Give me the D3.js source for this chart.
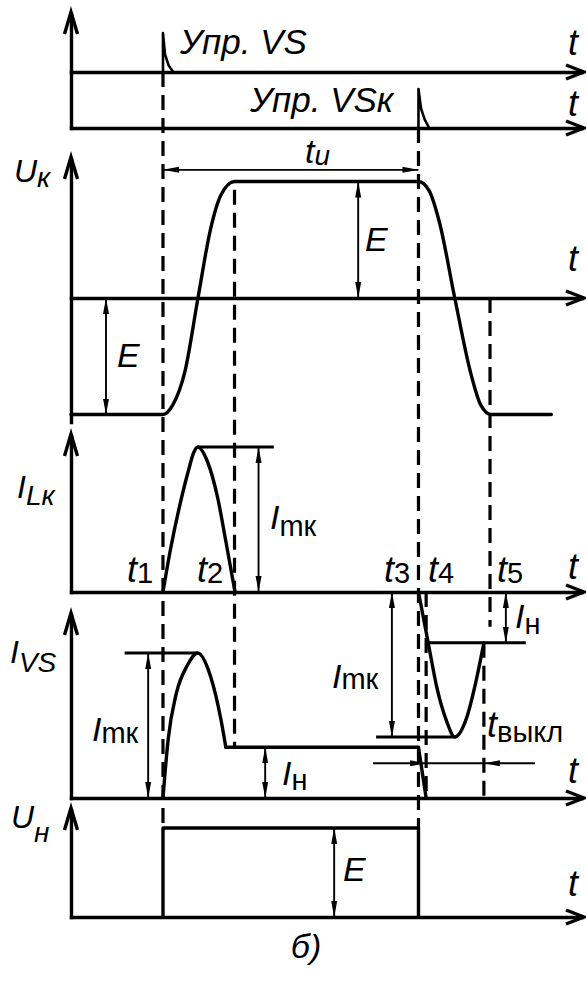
<!DOCTYPE html>
<html lang="ru">
<head>
<meta charset="utf-8">
<title>Временные диаграммы узла коммутации</title>
<script src="https://cdn.jsdelivr.net/npm/d3@7"></script>
<style>
  html, body { margin: 0; padding: 0; background: #fff; }
  svg { display: block; }
  text { font-family: "Liberation Sans", Arial, Helvetica, sans-serif; fill: #000; }
</style>
</head>
<body>
<script>
// Time instants of the commutation cycle (µs from the start of the trace)
const eventLabels = ["1", "2", "3", "4", "5"];
const eventTimes  = [18, 32, 68, 69.5, 82];
const turnOffEnd  = 80.8;   // end of the turn-off interval t_выкл
const loadCurrent = 0.35;   // I_н relative to I_mк

// Gate pulses: time, relative amplitude
const gateVsTimes   = [18, 18, 18.4, 19.1, 20];
const gateVsValues  = [0, 1, 0.45, 0.17, 0];
const gateVskTimes  = [68, 68, 68.5, 69.2, 70.1];
const gateVskValues = [0, 1, 0.5, 0.22, 0];

// Commutating capacitor voltage U_к, units of E
const ukTimes  = [0, 18, 19.9, 22.3, 24.85, 27.3, 29.3, 32, 68, 70.1, 72.1, 75.1, 78.2, 80.2, 82.2, 94];
const ukValues = [-1, -1, -0.92, -0.63, 0, 0.59, 0.88, 1, 1, 0.92, 0.65, 0, -0.64, -0.92, -1, -1];

// Commutating inductor current I_Lк, units of I_mк: forward half-wave
const ilkTimes  = [18, 19.5, 21.3, 23, 24, 24.8, 26.7, 28.7, 30.3, 32.1];
const ilkValues = [0, 0.3, 0.6, 0.84, 0.96, 1, 0.9, 0.65, 0.35, 0];
// reverse half-wave after VSк is fired
const ilkRevTimes  = [68, 69.9, 71.6, 73.5, 75.1, 77.4, 79.1, 80.8];
const ilkRevValues = [0, -0.35, -0.66, -0.89, -1, -0.87, -0.64, -0.35];

// Main thyristor current I_VS, units of I_mк
const ivsTimes  = [18, 19, 20.6, 22.7, 24.8, 27.3, 29.35, 30.3];
const ivsValues = [0, 0.4, 0.72, 0.91, 1, 0.84, 0.54, 0.35];
const ivsTailTimes  = [30.3, 68, 69.5];
const ivsTailValues = [0.35, 0.35, 0];

// Load voltage U_н, units of E
const unTimes  = [18, 18, 68, 68];
const unValues = [0, 1, 1, 0];

const zip = (ts, vs) => ts.map((t, i) => [t, vs[i]]);

// ---------------------------------------------------------------------------
const W = 586, H = 982;
const svg = d3.select("body").append("svg")
  .attr("width", W).attr("height", H).attr("viewBox", `0 0 ${W} ${H}`);
svg.append("rect").attr("width", W).attr("height", H).attr("fill", "#fff");

const x = d3.scaleLinear().domain([0, 100]).range([71, 582]);
const yGate1 = d3.scaleLinear().domain([0, 1]).range([72, 33]);
const yGate2 = d3.scaleLinear().domain([0, 1]).range([128, 89]);
const yUk  = d3.scaleLinear().domain([-1, 1]).range([414.5, 181.5]);
const yIlk = d3.scaleLinear().domain([-1, 1]).range([737, 447]);
const yIvs = d3.scaleLinear().domain([0, 1]).range([798, 653]);
const yUn  = d3.scaleLinear().domain([0, 1]).range([917, 828]);

const AXIS_W = 3.4, CURVE_W = 3.4, DIM_W = 1.9;

const defs = svg.append("defs");
defs.append("marker")
  .attr("id", "dimArrow")
  .attr("viewBox", "0 0 16 8")
  .attr("refX", 16).attr("refY", 4)
  .attr("markerWidth", 16).attr("markerHeight", 8)
  .attr("markerUnits", "userSpaceOnUse")
  .attr("orient", "auto-start-reverse")
  .append("path").attr("d", "M0,1 L16,4 L0,7 Z").attr("fill", "#000");

const gGuides = svg.append("g");
const gAxes = svg.append("g");
const gMarks = svg.append("g");
const gDims = svg.append("g");
const gText = svg.append("g");

// ---- axes ----------------------------------------------------------------
const tipX = 584;
function timeAxis(y0) {
  const ax = d3.axisBottom(x.copy().range([71, tipX - 2])).tickValues([]).tickSizeOuter(0);
  const g = gAxes.append("g").attr("transform", `translate(0,${y0})`).call(ax);
  g.select(".domain").attr("stroke", "#000").attr("stroke-width", AXIS_W).attr("stroke-linecap", "square");
  gAxes.append("path")
    .attr("d", `M${tipX - 18},${y0 - 7}L${tipX},${y0}L${tipX - 18},${y0 + 7}`)
    .attr("fill", "none").attr("stroke", "#000").attr("stroke-width", AXIS_W)
    .attr("stroke-linejoin", "miter");
}
function valueAxis(bottom, tip) {
  const ax = d3.axisLeft(d3.scaleLinear().range([bottom, tip + 2])).tickValues([]).tickSizeOuter(0);
  const g = gAxes.append("g").attr("transform", `translate(${x(0)},0)`).call(ax);
  g.select(".domain").attr("stroke", "#000").attr("stroke-width", AXIS_W).attr("stroke-linecap", "square");
  const x0 = x(0);
  gAxes.append("path")
    .attr("d", `M${x0 - 6.5},${tip + 22}L${x0},${tip}L${x0 + 6.5},${tip + 22}`)
    .attr("fill", "none").attr("stroke", "#000").attr("stroke-width", AXIS_W);
}

[yGate1(0), yGate2(0), yUk(0), yIlk(0), yIvs(0), yUn(0)].forEach(timeAxis);
valueAxis(yGate2(0), 12);
valueAxis(422, 157);
valueAxis(yIlk(0), 434);
valueAxis(yIvs(0), 613);
valueAxis(yUn(0), 808);

// ---- dashed guides at the switching instants ------------------------------
const guides = [
  [eventTimes[0], yGate1(0), yUn(1)],
  [eventTimes[2], yGate2(0), yUn(1)],
  [eventTimes[1], yUk(0.93), yIvs(loadCurrent)],
  [eventTimes[3], yIlk(0), yIvs(0)],
  [eventTimes[4], yUk(0), yIlk(-0.24)],
  [turnOffEnd, yIlk(-loadCurrent), yIvs(0)]
];
gGuides.selectAll("line").data(guides).join("line")
  .attr("x1", d => x(d[0])).attr("x2", d => x(d[0]))
  .attr("y1", d => d[1]).attr("y2", d => d[2])
  .attr("stroke", "#000").attr("stroke-width", 3.2)
  .attr("stroke-dasharray", "15,8");

// ---- waveforms -----------------------------------------------------------
function trace(data, yScale, curve, width) {
  const line = d3.line().x(d => x(d[0])).y(d => yScale(d[1])).curve(curve);
  gMarks.append("path").attr("d", line(data))
    .attr("fill", "none").attr("stroke", "#000")
    .attr("stroke-width", width).attr("stroke-linejoin", "round").attr("stroke-linecap", "round");
}

trace(zip(gateVsTimes, gateVsValues), yGate1, d3.curveLinear, 2.6);
trace(zip(gateVskTimes, gateVskValues), yGate2, d3.curveLinear, 2.6);
trace(zip(ukTimes, ukValues), yUk, d3.curveMonotoneX, CURVE_W);
trace(zip(ilkTimes, ilkValues), yIlk, d3.curveMonotoneX, CURVE_W);
trace(zip(ilkRevTimes, ilkRevValues), yIlk, d3.curveMonotoneX, CURVE_W);
trace(zip(ivsTimes, ivsValues), yIvs, d3.curveMonotoneX, CURVE_W);
trace(zip(ivsTailTimes, ivsTailValues), yIvs, d3.curveLinear, CURVE_W);
trace(zip(unTimes, unValues), yUn, d3.curveLinear, AXIS_W);

// ---- level reference lines -------------------------------------------------
const refLines = [
  [24.8, 39.7, yIlk(1)],                   // I_mк of the forward half-wave
  [10.5, 24.8, yIvs(1)],                   // I_mк in I_VS
  [59.7, 75.1, yIlk(-1)],                  // I_mк of the reverse half-wave
  [69.9, 89, yIlk(-loadCurrent)]           // I_н level
];
gMarks.selectAll("line.ref").data(refLines).join("line").attr("class", "ref")
  .attr("x1", d => x(d[0])).attr("x2", d => x(d[1]))
  .attr("y1", d => d[2]).attr("y2", d => d[2])
  .attr("stroke", "#000").attr("stroke-width", 3);

// ---- dimension arrows ---------------------------------------------------
function dim(x1, y1, x2, y2, start = true, end = true) {
  const l = gDims.append("line")
    .attr("x1", x1).attr("y1", y1).attr("x2", x2).attr("y2", y2)
    .attr("stroke", "#000").attr("stroke-width", DIM_W);
  if (start) l.attr("marker-start", "url(#dimArrow)");
  if (end) l.attr("marker-end", "url(#dimArrow)");
}
dim(x(6.85), yUk(0), x(6.85), yUk(-1));
dim(x(56.2), yUk(1), x(56.2), yUk(0));
dim(x(eventTimes[0]), yUk(1.1), x(eventTimes[2]), yUk(1.1));
dim(x(36.7), yIlk(1), x(36.7), yIlk(0));
dim(x(15.1), yIvs(1), x(15.1), yIvs(0));
dim(x(38), yIvs(loadCurrent), x(38), yIvs(0));
dim(x(62.8), yIlk(0), x(62.8), yIlk(-1));
dim(x(85.1), yIlk(0), x(85.1), yIlk(-loadCurrent));
dim(x(51.5), yUn(1), x(51.5), yUn(0));
// turn-off interval t_выкл
const yOff = yIvs(0.24);
dim(x(59.1), yOff, x(eventTimes[3]), yOff, false, true);
dim(x(90.8), yOff, x(turnOffEnd), yOff, false, true);
dim(x(eventTimes[3]), yOff, x(turnOffEnd), yOff, false, false);

// ---- text -----------------------------------------------------------------
function label(px, py, main, sub, o = {}) {
  const size = o.size || 34, subSize = o.subSize || 29;
  const t = gText.append("text").attr("x", px).attr("y", py)
    .attr("font-size", size).attr("font-style", "italic");
  t.append("tspan").text(main);
  if (sub) {
    t.append("tspan").text(sub)
      .attr("dy", o.dy || 0)
      .attr("font-size", subSize)
      .attr("font-style", o.subItalic ? "italic" : "normal");
  }
  return t;
}

label(180, 54, "Упр. VS", null, { size: 35 });
label(250, 112, "Упр. VSк", null, { size: 35 });

[55, 116, 271, 579, 783, 896].forEach(yy => label(568, yy, "t", null, { size: 36 }));

label(14, 182, "U", "к", { size: 32, subSize: 28, dy: 5, subItalic: true });
label(17, 498, "I", "Lк", { size: 32, subSize: 28, dy: 7, subItalic: true });
label(10, 663, "I", "VS", { size: 32, subSize: 28, dy: 9, subItalic: true });
label(11, 828, "U", "н", { size: 32, subSize: 28, dy: 14, subItalic: true });

label(117, 367, "E");
label(365, 251, "E");
label(343, 881, "E");
label(305, 163, "t", "и", { size: 34, subSize: 28, dy: 2, subItalic: true });

label(270, 529, "I", "mк", { dy: 7 });
label(92, 741, "I", "mк", { dy: 2 });
label(282, 785, "I", "н", { dy: 5 });
label(332, 688, "I", "mк", { dy: 1 });
label(515, 628, "I", "н", { dy: 6 });
label(487, 737, "t", "выкл", { size: 36, dy: 5 });

const tLabelX = [127, 197, 384, 428, 497];
eventLabels.forEach((s, i) => label(tLabelX[i], 582, "t", s, { size: 36, dy: 1 }));

gText.append("text").attr("x", 306).attr("y", 958)
  .attr("text-anchor", "middle").attr("font-size", 34).attr("font-style", "italic")
  .text("б)");
</script>
</body>
</html>
